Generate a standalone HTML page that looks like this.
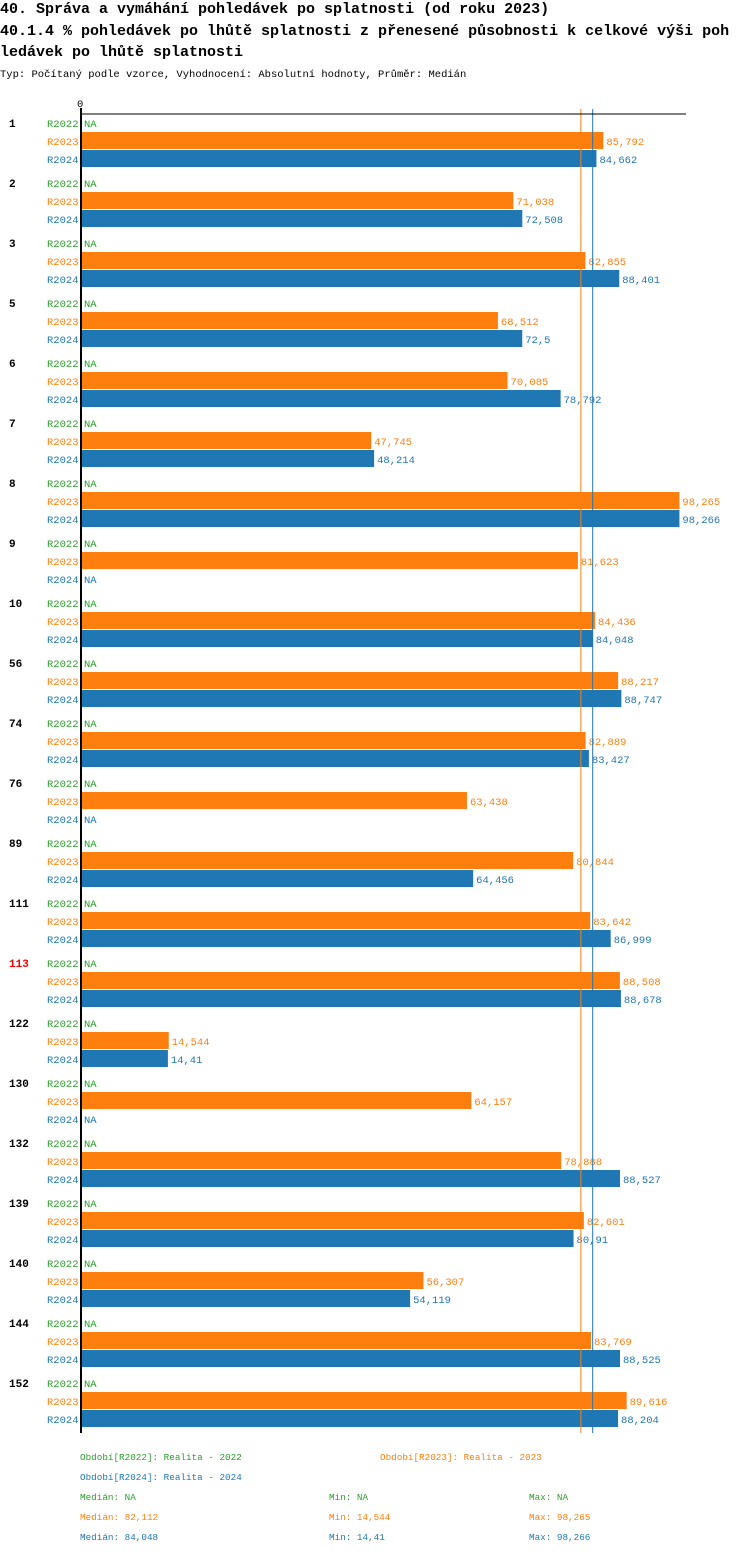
<!DOCTYPE html>
<html><head><meta charset="utf-8"><style>
body{margin:0;background:#fff;}
svg text{font-family:"Liberation Mono",monospace;}
</style></head><body>
<svg id="c" width="750" height="1554" xmlns="http://www.w3.org/2000/svg">
<text x="0" y="13" font-size="15" font-weight="bold">40. Správa a vymáhání pohledávek po splatnosti (od roku 2023)</text>
<text x="0" y="35" font-size="15" font-weight="bold">40.1.4 % pohledávek po lhůtě splatnosti z přenesené působnosti k celkové výši poh</text>
<text x="0" y="56" font-size="15" font-weight="bold">ledávek po lhůtě splatnosti</text>
<text x="0" y="77" font-size="10.5">Typ: Počítaný podle vzorce, Vyhodnocení: Absolutní hodnoty, Průměr: Medián</text>
<g id="plot"></g>
<g id="legend" font-size="9.3">
<text x="80" y="1460" fill="#2ca02c">Období[R2022]: Realita - 2022</text>
<text x="380" y="1460" fill="#ff7f0e">Období[R2023]: Realita - 2023</text>
<text x="80" y="1480" fill="#1f77b4">Období[R2024]: Realita - 2024</text>
<text x="80" y="1500" fill="#2ca02c">Medián: NA</text>
<text x="329" y="1500" fill="#2ca02c">Min: NA</text>
<text x="529" y="1500" fill="#2ca02c">Max: NA</text>
<text x="80" y="1520" fill="#ff7f0e">Medián: 82,112</text>
<text x="329" y="1520" fill="#ff7f0e">Min: 14,544</text>
<text x="529" y="1520" fill="#ff7f0e">Max: 98,265</text>
<text x="80" y="1540" fill="#1f77b4">Medián: 84,048</text>
<text x="329" y="1540" fill="#1f77b4">Min: 14,41</text>
<text x="529" y="1540" fill="#1f77b4">Max: 98,266</text>
</g>
</svg>
<script>
const categories=["1","2","3","5","6","7","8","9","10","56","74","76","89","111","113","122","130","132","139","140","144","152"];
const r2022=categories.map(()=>null);
const r2023=[85.792,71.038,82.855,68.512,70.085,47.745,98.265,81.623,84.436,88.217,82.889,63.438,80.844,83.642,88.508,14.544,64.157,78.888,82.601,56.307,83.769,89.616];
const r2024=[84.662,72.508,88.401,72.5,78.792,48.214,98.266,null,84.048,88.747,83.427,null,64.456,86.999,88.678,14.41,null,88.527,80.91,54.119,88.525,88.204];
const medians=[82.112,84.048];
const highlight="113";
const NS="http://www.w3.org/2000/svg";
const g=document.getElementById('plot');
const x0=80, k=6.1;
const xs=v=>x0+v*k;
const gy=i=>123+60*i;
function el(t,a){const e=document.createElementNS(NS,t);for(const n in a)e.setAttribute(n,a[n]);g.appendChild(e);return e;}
const fmt=v=>String(v).replace('.',',');
const series=[["R2022",r2022,"#2ca02c"],["R2023",r2023,"#ff7f0e"],["R2024",r2024,"#1f77b4"]];
categories.forEach((c,i)=>{
  const y=gy(i);
  const t=el('text',{x:9,y:y+4,'font-size':11,'font-weight':'bold',fill:c===highlight?'#e00':'#000'});
  t.textContent=c;
  
  
  series.forEach(([nm,arr,col],s)=>{
    const ry=y+18*s;
    const l=el('text',{x:47,y:ry+4,'font-size':10.5,fill:col});
    l.textContent=nm;
    
    
    const v=arr[i];
    let tx=84;
    if(v!=null){
      const r=el('rect',{x:x0,y:ry-9,width:xs(v)-x0,height:17,fill:col});
      
      
      tx=xs(v)+3;
    }
    const vt=el('text',{x:tx,y:ry+4,'font-size':10.5,fill:col});
    vt.textContent=v==null?'NA':fmt(v);
    
    
  });
});
[["#ff7f0e",medians[0]],["#1f77b4",medians[1]]].forEach(([col,m])=>{
  const l=el('line',{x1:xs(m),x2:xs(m),y1:109,y2:1433,stroke:col,'stroke-width':1});
  
  
});
const ax=el('line',{x1:80,x2:686,y1:114,y2:114,stroke:'#000','stroke-width':1});


const ay=el('line',{x1:81,x2:81,y1:108,y2:1433,stroke:'#000','stroke-width':2});


const z=el('text',{x:77,y:107,'font-size':10.5});
z.textContent='0';


</script>
</body></html>
